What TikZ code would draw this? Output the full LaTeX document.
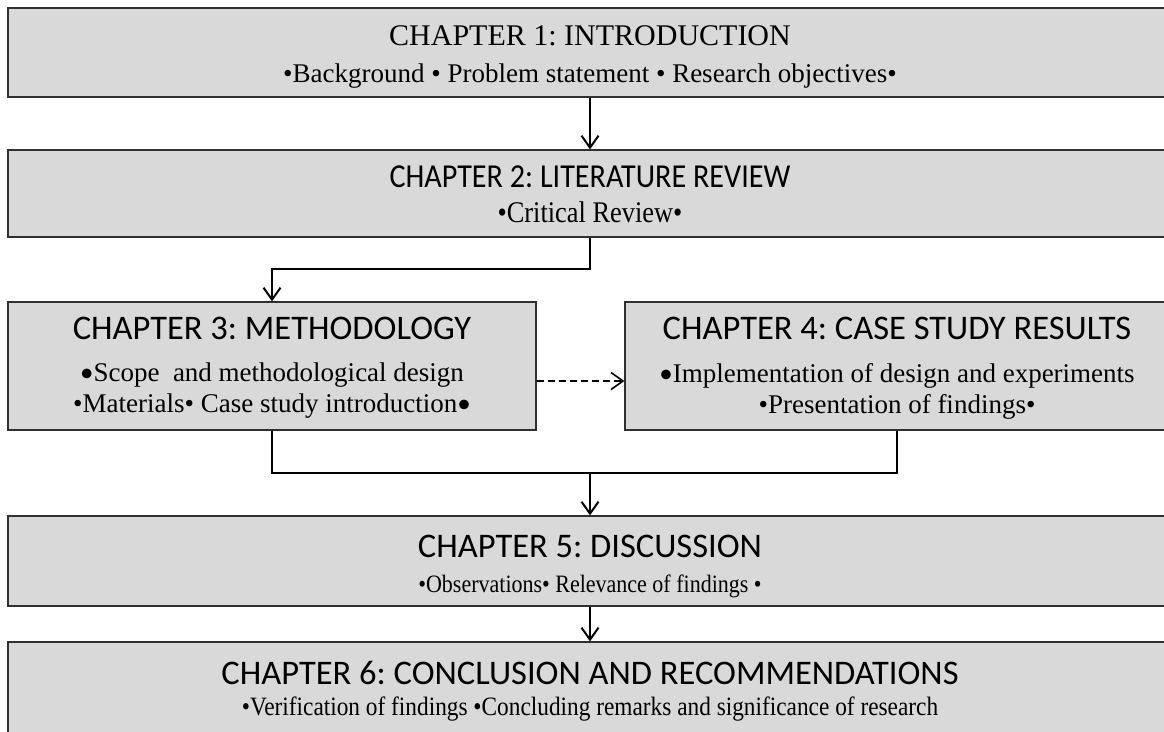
\documentclass[tikz,border=0pt]{standalone}
\usepackage{fontspec}
\usetikzlibrary{arrows.meta}
\newfontfamily\serifface{Liberation Serif}
\newfontfamily\titleface{Carlito}
% narrower cuts for the more tightly set lines
\newfontfamily\serifnarrow[FakeStretch=0.88]{Liberation Serif}
\newfontfamily\titlenarrow[FakeStretch=0.9]{Carlito}
\definecolor{boxfill}{HTML}{D9D9D9}
\definecolor{boxline}{HTML}{303030}
% a heavier bullet, as used at the ends of some item lines
\newcommand\heavybul{{\titleface •}}
\frenchspacing
\begin{document}
\begin{tikzpicture}[x=1pt,y=-1pt,
  chapbox/.style={draw=boxline, fill=boxfill, line width=1.2pt, rectangle, inner sep=0pt},
  heading/.style={anchor=base, inner sep=0pt, font=\titleface\fontsize{34.5}{40}\selectfont},
  items/.style={anchor=base, inner sep=0pt, font=\serifface\fontsize{27}{32}\selectfont},
  link/.style={line width=2pt, draw=black},
  arr/.style={link, -{Straight Barb[length=12pt,width=17pt]}},
  dasharr/.style={arr, line width=1.6pt, dash pattern=on 7pt off 4pt},
]
\useasboundingbox (0,0) rectangle (1164,731);
\clip (0,0) rectangle (1164,731);

% chapter boxes
\node[chapbox, minimum width=1164pt, minimum height=89pt] (c1) at (590,52.5) {};
\node[chapbox, minimum width=1164pt, minimum height=87pt] (c2) at (590,193.5) {};
\node[chapbox, minimum width=528pt, minimum height=128pt] (c3) at (272,366) {};
\node[chapbox, minimum width=544pt, minimum height=128pt] (c4) at (897,366) {};
\node[chapbox, minimum width=1164pt, minimum height=90pt] (c5) at (590,561) {};
\node[chapbox, minimum width=1164pt, minimum height=100pt] (c6) at (590,692) {};

% headings and items
\node[heading, font=\serifface\fontsize{30}{36}\selectfont] (t1) at (590,45) {CHAPTER 1: INTRODUCTION};
\node[items] (i1) at (590,82) {•Background • Problem statement • Research objectives•};

\node[heading, font=\titlenarrow\fontsize{33.5}{38}\selectfont] (t2) at (590,187) {CHAPTER 2: LITERATURE REVIEW};
\node[items, font=\serifnarrow\fontsize{30}{34}\selectfont] (i2) at (590,222) {•Critical Review•};

\node[heading] (t3) at (272,339) {CHAPTER 3: METHODOLOGY};
\node[items] (i3a) at (272,381) {\heavybul Scope\ \ and methodological design};
\node[items] (i3b) at (272,412) {•Materials• Case study introduction\heavybul};

\node[heading] (t4) at (897,339) {CHAPTER 4: CASE STUDY RESULTS};
\node[items] (i4a) at (897,382) {\heavybul Implementation of design and experiments};
\node[items] (i4b) at (897,413) {•Presentation of findings•};

\node[heading] (t5) at (590,557) {CHAPTER 5: DISCUSSION};
\node[items, font=\serifnarrow\fontsize{25}{29}\selectfont] (i5) at (590,592) {•Observations• Relevance of findings •};

\node[heading] (t6) at (590,684) {CHAPTER 6: CONCLUSION AND RECOMMENDATIONS};
\node[items, font=\serifnarrow\fontsize{26.5}{30}\selectfont] (i6) at (590,715) {•Verification of findings •Concluding remarks and significance of research};

% connectors
\draw[arr] (c1.south) -- (c2.north);
\draw[arr] (c2.south) -- ++(0,31) -| (c3.north);
\draw[dasharr] ([yshift=-15pt]c3.east) -- ([yshift=-15pt]c4.west);
\coordinate (merge) at (590,472);
\draw[link] (c3.south) -- ++(0,42) -| (c4.south);
\draw[arr] (merge) -- (c5.north);
\draw[arr] (c5.south) -- (c6.north);
\end{tikzpicture}
\end{document}
